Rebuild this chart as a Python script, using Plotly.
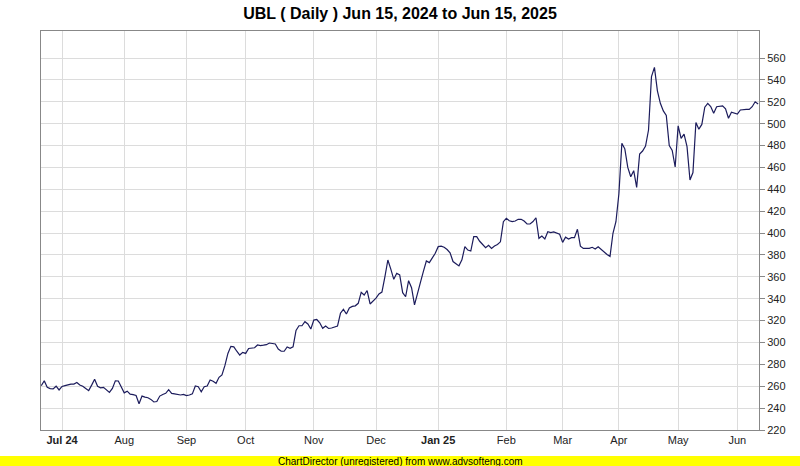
import plotly.graph_objects as go

# Daily closing prices, grouped by month (trading days only)
jun24 = [260.5, 265, 259, 257.8, 257.5, 260, 256.6]
jul24 = [259.8, 260.5, 261.5, 262, 262, 263.4, 261.1, 260, 258, 256, 261, 266.3,
         260, 258.5, 259, 256.5, 254.3, 258, 265, 264.8, 259.5]
aug24 = [254, 255.5, 252.8, 252.3, 251.5, 244, 251, 250, 249.5, 248, 245.6, 246,
         251, 252.5, 253.5, 256.8, 253.5, 253, 252.6, 252, 252.6]
sep24 = [251.4, 252, 253, 260.2, 259.6, 255, 259.6, 260.2, 265.7, 264.5, 262.7,
         268.2, 270.3, 279, 290, 296.5, 296, 292, 288.5, 291]
oct24 = [290, 294.5, 295, 295.2, 297.7, 297.2, 297.5, 298, 299.5, 298.8, 298.6, 294,
         292, 292, 295.9, 294.7, 296, 311, 315.3, 315.3, 319, 316.9, 312.3]
nov24 = [320.5, 321, 318, 313, 315, 312.8, 313.2, 313.9, 315, 326.7, 330.3, 326,
         331.5, 333, 333.5, 335.8, 345.9, 343.4, 347.5, 335.2, 338]
dec24 = [340.5, 344.3, 346.1, 360, 375.4, 367, 357.7, 363.2, 361.7, 345.5, 341.8,
         356.5, 350, 334.3, 346, 355, 365, 374.5, 373, 377, 381.5]
jan25 = [387.6, 388, 387, 385, 382, 374, 372, 370, 375.5, 387.6, 384.5, 383.6, 396.7,
         396.7, 392.5, 389, 386.6, 388.8, 386, 388.2, 389.5, 392, 410.4]
feb25 = [413.5, 411.3, 410.4, 411, 412.6, 412.6, 411, 408.3, 408.3, 410.5, 414, 395.2,
         397.3, 394.6, 401.3, 400.4, 401, 400, 398.9]
mar25 = [391.5, 396.3, 394.6, 395.8, 395.8, 403.5, 388, 386, 386, 386, 387, 385.5,
         387.5, 385, 382.5, 380.5, 378.7, 399.8, 410.4]
apr25 = [436, 482, 477, 460, 451.5, 457, 441.8, 472.3, 475, 479.5, 494.2, 543, 551.5,
         530, 518.6, 511.7, 507.5, 480, 475.5, 460.4]
may25 = [498, 486.6, 490.5, 479, 448.5, 455.3, 501, 495, 499.3, 515, 518.6, 515.6,
         509.5, 515.5, 516, 516.2, 513.5, 505, 510.5, 509.5]
jun25 = [508.7, 512.5, 513.1, 513.1, 513.1, 515.5, 520, 518]

month_blocks = [jun24, jul24, aug24, sep24, oct24, nov24, dec24, jan25,
                feb25, mar25, apr25, may25, jun25]
month_labels = ["<b>Jul 24</b>", "Aug", "Sep", "Oct", "Nov", "Dec", "<b>Jan 25</b>",
                "Feb", "Mar", "Apr", "May", "Jun"]
price_ticks = list(range(220, 561, 20))

prices = [v for block in month_blocks for v in block]
days = list(range(len(prices)))

month_starts = []
pos = 0
for block in month_blocks[:-1]:
    pos += len(block)
    month_starts.append(pos)

fig = go.Figure()
fig.add_trace(go.Scatter(x=days, y=prices, mode="lines",
                         line=dict(color="#1c1c5c", width=1.2),
                         hoverinfo="skip", showlegend=False))

fig.update_layout(
    width=800, height=466,
    margin=dict(l=41, r=41, t=31, b=36),
    paper_bgcolor="white", plot_bgcolor="white",
    font=dict(family="Liberation Sans, Arial, sans-serif", size=11, color="#222222"),
    title=dict(text="<b>UBL ( Daily ) Jun 15, 2024 to Jun 15, 2025</b>",
               x=0.5, xanchor="center", y=1 - 13 / 466, yanchor="middle",
               yref="container",
               font=dict(family="Liberation Sans, Arial", size=16, color="#000000")),
    xaxis=dict(range=[-0.1, 242.3], tickmode="array", tickvals=month_starts,
               ticktext=month_labels, showgrid=True, gridcolor="#dcdcdc", gridwidth=1,
               showline=True, linecolor="#888888", linewidth=1, mirror=True,
               ticks="", zeroline=False, tickfont=dict(size=11, color="#222222")),
    yaxis=dict(range=[220, 584.7], side="right", tickmode="array", tickvals=price_ticks,
               showgrid=True, gridcolor="#dcdcdc", gridwidth=1,
               showline=True, linecolor="#888888", linewidth=1, mirror=True,
               ticks="outside", ticklen=5, tickcolor="#888888", zeroline=False,
               tickfont=dict(size=11, color="#222222")),
    shapes=[dict(type="rect", xref="paper", yref="paper",
                 x0=-41 / 718, x1=759 / 718, y0=-(466 - 430) / 399, y1=-(456 - 430) / 399,
                 fillcolor="#ffff00", line=dict(width=0), layer="above")],
    annotations=[dict(text="ChartDirector (unregistered) from www.advsofteng.com",
                      xref="paper", yref="paper", x=(400 - 41) / 718,
                      y=-(461 - 430) / 399, xanchor="center", yanchor="middle",
                      showarrow=False,
                      font=dict(family="Liberation Sans, Arial", size=10, color="#000000"))],
)

fig.write_html("out.html",
               config={"displayModeBar": False},
               post_script="document.body.style.margin='0';document.body.style.padding='0';")
